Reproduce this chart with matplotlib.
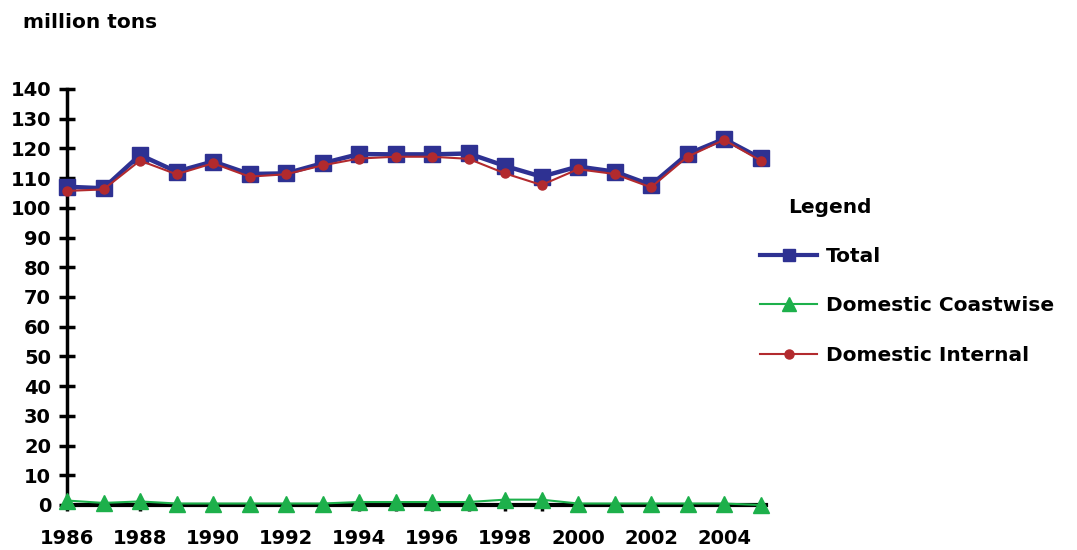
import matplotlib
matplotlib.use("Agg")
import matplotlib.pyplot as plt
from matplotlib.lines import Line2D

plt.rcParams['font.family'] = ['DejaVu Sans']
plt.rcParams['font.weight'] = 'bold'

years = list(range(1986, 2006))
total = [107.1, 106.6, 117.8, 112.2, 115.6, 111.4, 111.6, 115.0, 118.1, 118.0,
         118.0, 118.3, 114.1, 110.5, 113.9, 112.2, 107.7, 118.1, 123.2, 116.7]
coastwise = [1.5, 0.7, 1.2, 0.5, 0.5, 0.5, 0.5, 0.5, 1.0, 1.0,
             1.0, 1.0, 1.8, 1.8, 0.5, 0.5, 0.5, 0.5, 0.5, 0.0]
internal = [105.7, 106.2, 115.9, 111.3, 115.0, 110.5, 111.3, 114.3, 116.6, 117.2,
            117.2, 116.5, 111.6, 107.7, 113.0, 111.4, 106.9, 117.2, 122.9, 115.9]
year_ticks = list(range(1986, 2006, 2))
value_ticks = list(range(0, 141, 10))

NAVY, GREEN, RED = '#2E3192', '#1DB04B', '#B22A2E'

fig = plt.figure(figsize=(10.77, 5.5), dpi=100)
ax = fig.add_axes([67 / 1077, 1 - 505 / 550, (766 - 67) / 1077, (505 - 89) / 550])

ax.plot(years, total, color=NAVY, lw=3.2, marker='s', ms=11, zorder=3)
ax.plot(years, coastwise, color=GREEN, lw=1.5, marker='^', ms=11, zorder=4)
ax.plot(years, internal, color=RED, lw=1.5, marker='o', ms=6.5, zorder=5)

ax.set_xlim(1986, 2005.15)
ax.set_ylim(0, 140)
ax.set_yticks(value_ticks)
ax.set_xticks(years)
ax.set_xticklabels([str(y) if y in year_ticks else '' for y in years])

for side in ('top', 'right'):
    ax.spines[side].set_visible(False)
ax.spines['left'].set_linewidth(2.5)
ax.spines['bottom'].set_linewidth(3)
ax.spines['bottom'].set_zorder(2)
ax.tick_params(axis='y', direction='inout', length=11, width=2.5, pad=6,
               labelsize=14)
ax.tick_params(axis='x', direction='out', length=4, width=2.5, pad=13,
               labelsize=14)
for lbl in ax.get_xticklabels() + ax.get_yticklabels():
    lbl.set_fontweight('bold')
ax.patch.set_visible(False)
for ln in ax.lines:
    ln.set_clip_on(False)

fig.text(23 / 1077, 1 - 22 / 550, 'million tons', fontsize=14.5,
         fontweight='bold', va='center', ha='left')

handles = [
    Line2D([], [], color=NAVY, lw=3, marker='s', ms=9),
    Line2D([], [], color=GREEN, lw=1.5, marker='^', ms=10),
    Line2D([], [], color=RED, lw=1.5, marker='o', ms=6.5),
]
labels = ['Total', 'Domestic Coastwise', 'Domestic Internal']
leg = fig.legend(handles, labels, loc='upper left',
                 bbox_to_anchor=(752 / 1077, 1 - 190 / 550),
                 frameon=False, title='Legend', fontsize=14.5,
                 title_fontproperties={'weight': 'bold', 'size': 14.5},
                 labelspacing=1.5, handlelength=2.85, handletextpad=0.4,
                 borderaxespad=0)
leg._legend_box.align = 'left'
leg.get_title().set_position((28, 0))
for t in leg.get_texts():
    t.set_fontweight('bold')

fig.savefig('out.png', dpi=100)
